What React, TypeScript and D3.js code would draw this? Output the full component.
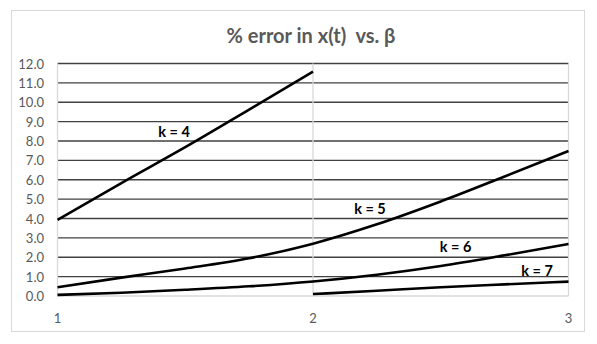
import React from "react";
import * as d3 from "d3";

const title = "% error in x(t)  vs. β";
const yTicks = [0, 1, 2, 3, 4, 5, 6, 7, 8, 9, 10, 11, 12];
const xTicks = [1, 2, 3];

const betaK4 = [1, 1.25, 1.5, 1.75, 2];
const errK4 = [3.93, 5.83, 7.68, 9.62, 11.58];

const betaK5 = [1, 1.25, 1.5, 1.75, 2, 2.25, 2.5, 2.75, 3];
const errK5 = [0.45, 0.95, 1.42, 1.95, 2.7, 3.7, 4.88, 6.17, 7.48];

const betaK6 = [1, 1.25, 1.5, 1.75, 2, 2.25, 2.5, 2.75, 3];
const errK6 = [0.06, 0.17, 0.32, 0.5, 0.75, 1.1, 1.55, 2.1, 2.68];

const betaK7 = [2, 2.25, 2.5, 2.75, 3];
const errK7 = [0.1, 0.27, 0.45, 0.6, 0.74];

const seriesNames = ["k = 4", "k = 5", "k = 6", "k = 7"];
const labelBeta = [1.456, 2.223, 2.558, 2.877];
const labelErr = [8.5, 4.54, 2.53, 1.34];

export default function App() {
  const W = 597;
  const H = 344;
  const x = d3.scaleLinear().domain([1, 3]).range([57.5, 568.5]);
  const y = d3.scaleLinear().domain([0, 12]).range([296, 63.5]);
  const line = d3
    .line<[number, number]>()
    .x((d) => x(d[0]))
    .y((d) => y(d[1]))
    .curve(d3.curveMonotoneX);

  const series = [
    d3.zip(betaK4, errK4),
    d3.zip(betaK5, errK5),
    d3.zip(betaK6, errK6),
    d3.zip(betaK7, errK7),
  ] as [number, number][][];

  const font = "Lato, 'Open Sans', sans-serif";

  return (
    <div style={{ position: "fixed", left: 0, top: 0 }}>
      <svg width={W} height={H} style={{ display: "block", background: "#fff" }}>
        <rect x={11.5} y={10.5} width={573} height={321} fill="#fff" stroke="#d9d9d9" strokeWidth={1} />
        <text
          x={311}
          y={35}
          textAnchor="middle"
          dominantBaseline="central"
          fontFamily={font}
          fontWeight="bold"
          fontSize={20}
          fill="#595959"
          style={{ whiteSpace: "pre" }}
        >
          {title}
        </text>
        {yTicks.map((t) => (
          <line
            key={"g" + t}
            x1={x(1)}
            x2={x(3)}
            y1={y(t)}
            y2={y(t)}
            stroke={t === 0 ? "#d9d9d9" : "#404040"}
            strokeWidth={1.3}
          />
        ))}
        {xTicks.map((t) => (
          <line key={"v" + t} x1={x(t)} x2={x(t)} y1={y(12)} y2={y(0)} stroke="#d9d9d9" strokeWidth={1.3} />
        ))}
        {yTicks.map((t) => (
          <text
            key={"yl" + t}
            x={44}
            y={y(t)}
            textAnchor="end"
            dominantBaseline="central"
            fontFamily={font}
            fontSize={13}
            fill="#595959"
          >
            {t.toFixed(1)}
          </text>
        ))}
        {xTicks.map((t) => (
          <text
            key={"xl" + t}
            x={x(t)}
            y={318}
            textAnchor="middle"
            dominantBaseline="central"
            fontFamily={font}
            fontSize={13}
            fill="#595959"
          >
            {t}
          </text>
        ))}
        {series.map((s, i) => (
          <path key={"s" + i} d={line(s) || ""} fill="none" stroke="#000" strokeWidth={2.6} strokeLinejoin="round" />
        ))}
        {seriesNames.map((n, i) => (
          <text
            key={"n" + i}
            x={x(labelBeta[i])}
            y={y(labelErr[i])}
            textAnchor="middle"
            dominantBaseline="central"
            fontFamily={font}
            fontWeight="bold"
            fontSize={14.5}
            fill="#000"
          >
            {n}
          </text>
        ))}
      </svg>
    </div>
  );
}
